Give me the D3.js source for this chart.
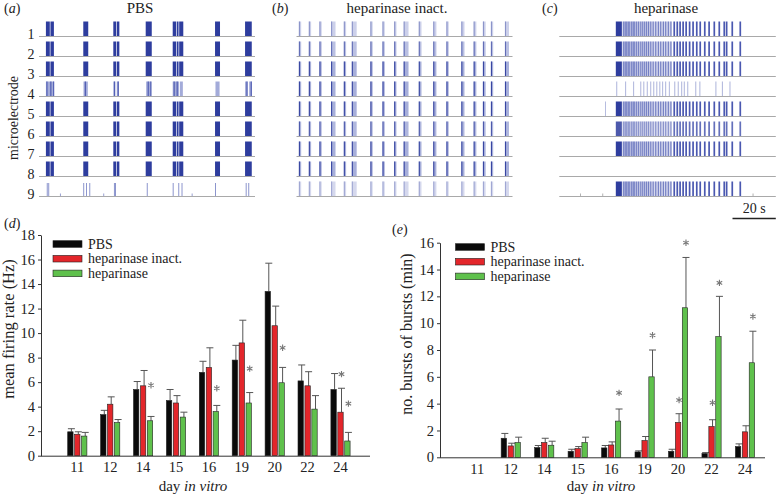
<!DOCTYPE html>
<html><head><meta charset="utf-8">
<script src="https://cdn.jsdelivr.net/npm/d3@7"></script>
<style>
body{margin:0;background:#fff}
svg{display:block}
text{font-family:"Liberation Serif","Times New Roman",serif;fill:#222}
</style>
</head><body>
<svg id="chart" width="781" height="494"></svg>
<script>
// ---------------- DATA ----------------
const days = ["11","12","14","15","16","19","20","22","24"];
const seriesNames = ["PBS","heparinase inact.","heparinase"];

// (d) mean firing rate (Hz): mean and mean+error
const ratePBS      = [1.95,3.35,5.4,4.5,6.8,7.8,13.4,6.1,5.4];
const ratePBSTop   = [2.2,3.7,6.05,5.4,7.7,9.0,15.7,7.4,6.7];
const rateInact    = [1.75,4.2,5.7,4.3,7.2,9.2,10.6,5.7,3.55];
const rateInactTop = [1.95,4.8,6.95,4.9,8.8,11.05,12.2,6.85,5.5];
const rateHep      = [1.6,2.7,2.85,3.15,3.6,4.3,5.95,3.8,1.2];
const rateHepTop   = [1.9,2.95,3.2,3.55,4.1,5.15,7.2,4.9,1.9];
const rateTicks = [0,2,4,6,8,10,12,14,16,18];
// asterisks: [day, series index, value]
const rateStars = [["14",2,5.75],["16",2,5.5],["19",2,7.1],["20",2,8.8],["24",1,6.65],["24",2,4.25]];

// (e) no. bursts of bursts (min)
const burstPBS      = [0,1.42,0.72,0.45,0.7,0.4,0.45,0.28,0.8];
const burstPBSTop   = [0,1.78,0.88,0.6,0.88,0.48,0.6,0.35,1.0];
const burstInact    = [0,0.85,1.1,0.65,0.92,1.25,2.6,2.3,1.9];
const burstInactTop = [0,1.05,1.42,0.8,1.15,1.55,3.25,2.8,2.35];
const burstHep      = [0,1.1,0.9,1.1,2.7,6.0,11.15,9.0,7.05];
const burstHepTop   = [0,1.5,1.2,1.5,3.6,8.0,14.9,12.0,9.4];
const burstTicks = [0,2,4,6,8,10,12,14,16];
const burstStars = [["16",2,4.8],["19",2,9.1],["20",1,4.27],["20",2,16.0],["22",1,4.07],["22",2,13.0],["24",2,10.5]];

// rasters (time in s, 100 s window per panel)
const electrodes = [1,2,3,4,5,6,7,8,9];
// (a) PBS
const pbsSegments = [[3.2,5.0],[5.3,6.9],[20.5,22.8],[34.4,35.7],[36.0,37.2],[49.4,52.2],[61.9,63.5],[63.8,64.6],[64.9,66.8],[81.5,83.8],[95.4,98.5]];
const pbsFullRows = [1,2,3,5,6,7,8];
const pbsRow4Segments = [[3.2,6.9],[20.6,22.6],[34.4,35.3],[36.0,37.0],[49.6,52.0],[61.9,64.8],[65.2,66.6],[81.7,83.6],[95.4,96.6],[97.3,98.5]];
const pbsRow4Dark = [3.4,5.2,6.5,21.2,34.7,36.4,50.3,51.5,62.3,63.7,96.0,98.0];
const pbsRow9Spikes = [3.6,4.3,20.5,21.8,23.3,34.7,35.2,49.9,61.9,64.5,66.0,81.5,95.7,96.9];
const pbsRow9Small = [9.7,29.8,70.7];
// (b) heparinase inact.: [onset, width]
const inactBursts = [[1.1,0.6],[5.7,0.6],[10.6,0.6],[16.0,1.6],[21.9,0.6],[25.6,1.8],[34.2,0.6],[39.8,0.6],[45.2,0.6],[49.6,1.8],[56.6,0.8],[63.3,1.0],[69.4,0.6],[76.3,1.0],[82.0,0.8],[86.3,0.8],[90.0,0.6],[96.5,1.4]];
// (c) heparinase
const hepSolid = [26.1,28.9];
const hepDense = [28.9,52.0];
const hepTrain = [29.5,30.2,30.9,31.6,32.3,33.2,33.9,34.6,35.5,36.4,37.4,38.3,39.2,40.1,41.0,42.0,43.1,44.3,45.5,46.6,47.8,48.9,50.1,51.3,52.7,54.1,55.4,56.8,58.2,59.8,61.4,63.1,64.7,66.8,68.8,71.2,73.5,75.8,76.9,79.5,83.2];
const hepFullRows = [1,2,3,5,6,7,9];
const hepRow4 = [26.3,30.4,34.1,37.4,38.8,40.4,42.0,43.4,44.8,46.2,47.5,48.9,50.6,53.1,54.7,56.3,57.5,59.1,62.8,64.7,72.1,75.1,78.6];
const hepRow5Extra = [21.2];
const hepRow9Small = [9.6,19.9,89.3];
const scaleBarSeconds = 20;

// ---------------- DRAW ----------------
const svg = d3.select("#chart");
const DARK = "#2e3d9e", MID = "#4a58b0", LIGHT = "#a3abd9", BASE = "#a9a9a9";
const rowY = d3.scalePoint().domain(electrodes).range([36,196]);
const SPIKE_H = 14.5;

function panelLabel(x, y, letter){
  const t = svg.append("text").attr("x",x).attr("y",y).attr("font-size",14);
  t.append("tspan").text("(");
  t.append("tspan").attr("font-style","italic").text(letter);
  t.append("tspan").text(")");
}
function title(x, y, s){
  svg.append("text").attr("x",x).attr("y",y).attr("text-anchor","middle").attr("font-size",15).text(s);
}
function baselines(g, xs){
  g.selectAll("line.base").data(electrodes).join("line").attr("class","base")
    .attr("x1",xs.range()[0]).attr("x2",xs.range()[1])
    .attr("y1",d=>rowY(d)+0.5).attr("y2",d=>rowY(d)+0.5)
    .attr("stroke",BASE).attr("stroke-width",1);
}
function spikes(g, xs, row, times, color, w, h, op){
  g.append("g").selectAll("rect").data(times).join("rect")
    .attr("x",d=>xs(d)).attr("width",w)
    .attr("y",rowY(row)-h).attr("height",h)
    .attr("fill",color).attr("opacity",op);
}

// panel (a)
const xa = d3.scaleLinear().domain([0,100]).range([39,255]);
const ga = svg.append("g");
baselines(ga, xa);
pbsFullRows.forEach(r=>{
  ga.append("g").selectAll("rect").data(pbsSegments).join("rect")
    .attr("x",d=>xa(d[0])).attr("width",d=>xa(d[1])-xa(d[0]))
    .attr("y",rowY(r)-SPIKE_H).attr("height",SPIKE_H).attr("fill",DARK);
});
ga.append("g").selectAll("rect").data(pbsRow4Segments).join("rect")
  .attr("x",d=>xa(d[0])).attr("width",d=>xa(d[1])-xa(d[0]))
  .attr("y",rowY(4)-SPIKE_H).attr("height",SPIKE_H).attr("fill",LIGHT);
spikes(ga, xa, 4, pbsRow4Dark, MID, 1.2, SPIKE_H, 0.9);
spikes(ga, xa, 9, pbsRow9Spikes, MID, 0.9, 13, 0.7);
spikes(ga, xa, 9, pbsRow9Small, MID, 0.8, 2.5, 0.7);
svg.append("g").selectAll("text").data(electrodes).join("text")
  .attr("x",31).attr("y",d=>rowY(d)+2.5).attr("text-anchor","middle").attr("font-size",14).text(d=>d);
svg.append("text").attr("transform","translate(18,118) rotate(-90)").attr("text-anchor","middle")
  .attr("font-size",14).text("microelectrode");
panelLabel(4,13,"a"); title(140,13,"PBS");

// panel (b)
const xb = d3.scaleLinear().domain([0,100]).range([296.5,512.5]);
const gb = svg.append("g");
baselines(gb, xb);
const inactRowOpacity = {1:0.55,2:0.75,3:0.95,4:0.95,5:0.95,6:0.85,7:0.95,8:0.95,9:0.45};
electrodes.forEach(r=>{
  const g = gb.append("g").attr("opacity",inactRowOpacity[r]);
  g.selectAll("rect.l").data(inactBursts).join("rect").attr("class","l")
    .attr("x",d=>xb(d[0])).attr("width",d=>Math.max(1.6,xb(d[0]+d[1])-xb(d[0])+1))
    .attr("y",rowY(r)-SPIKE_H).attr("height",SPIKE_H).attr("fill",LIGHT);
  g.selectAll("rect.d").data(inactBursts).join("rect").attr("class","d")
    .attr("x",d=>xb(d[0])).attr("width",1.1)
    .attr("y",rowY(r)-SPIKE_H).attr("height",SPIKE_H).attr("fill",DARK);
});
panelLabel(272,13,"b"); title(397,13,"heparinase inact.");

// panel (c)
const xc = d3.scaleLinear().domain([0,100]).range([559.3,775.8]);
const gc = svg.append("g");
baselines(gc, xc);
hepFullRows.forEach(r=>{
  const g = gc.append("g").attr("opacity", r===6 ? 0.85 : 1);
  g.append("rect").attr("x",xc(hepDense[0])).attr("width",xc(hepDense[1])-xc(hepDense[0]))
    .attr("y",rowY(r)-SPIKE_H).attr("height",SPIKE_H).attr("fill",LIGHT).attr("opacity",0.45);
  g.append("rect").attr("x",xc(hepSolid[0])).attr("width",xc(hepSolid[1])-xc(hepSolid[0]))
    .attr("y",rowY(r)-SPIKE_H).attr("height",SPIKE_H).attr("fill",DARK);
  g.selectAll("rect.t").data(hepTrain).join("rect").attr("class","t")
    .attr("x",d=>xc(d)).attr("width",(d,i)=> i<24 ? 1.1 : 1.7)
    .attr("y",rowY(r)-SPIKE_H).attr("height",SPIKE_H).attr("fill",MID)
    .attr("opacity",(d,i)=> i<24 ? 0.75 : 1);
});
spikes(gc, xc, 4, hepRow4, MID, 1, SPIKE_H, 0.45);
spikes(gc, xc, 5, hepRow5Extra, MID, 0.8, SPIKE_H, 0.5);
spikes(gc, xc, 9, hepRow9Small, "#888", 0.8, 2.5, 0.8);
panelLabel(542,13,"c"); title(666,13,"heparinase");
// scale bar
svg.append("line").attr("x1",xc(100-scaleBarSeconds)).attr("x2",xc(100)).attr("y1",218.5).attr("y2",218.5)
  .attr("stroke","#222").attr("stroke-width",1.5);
svg.append("text").attr("x",(xc(100-scaleBarSeconds)+xc(100))/2).attr("y",213).attr("text-anchor","middle")
  .attr("font-size",14).text(scaleBarSeconds+" s");

// ---------- bar charts ----------
const COLORS = ["#0a0a0a","#e3262b","#5fc14c"];
const starPath = d3.symbol().type(d3.symbolAsterisk).size(28)();
function barChart(opt){
  const g = svg.append("g");
  const y = d3.scaleLinear().domain(opt.yDomain).range([opt.y0, opt.y1]);
  const x0 = d3.scaleBand().domain(days).range(opt.xRange);
  const x1 = d3.scaleBand().domain([0,1,2]).range([-9.6,9.6]).paddingInner(0.22);
  const cx = (day,s)=> x0(day)+x0.bandwidth()/2+x1(s)+x1.bandwidth()/2;
  // axes
  const ya = g.append("g").attr("transform",`translate(${opt.axisX},0)`)
    .call(d3.axisLeft(y).tickValues(opt.ticks).tickSize(3).tickSizeOuter(0).tickPadding(3));
  ya.select(".domain").attr("stroke","#333");
  ya.selectAll(".tick line").attr("stroke","#333");
  ya.selectAll("text").attr("font-size",14.5);
  g.append("line").attr("x1",opt.axisX).attr("x2",opt.axisEnd).attr("y1",opt.y0+0.5).attr("y2",opt.y0+0.5).attr("stroke","#333");
  const xa = g.append("g").attr("transform",`translate(0,${opt.y0})`)
    .call(d3.axisBottom(x0).tickSize(0).tickPadding(6));
  xa.select(".domain").remove();
  xa.selectAll("text").attr("font-size",14.5);
  // bars
  opt.series.forEach((vals,s)=>{
    const data = days.map((d,i)=>({day:d,v:vals[i],top:opt.tops[s][i]})).filter(d=>d.v>0);
    g.append("g").selectAll("line.ev").data(data).join("line")
      .attr("x1",d=>cx(d.day,s)+1).attr("x2",d=>cx(d.day,s)+1)
      .attr("y1",d=>y(d.v)).attr("y2",d=>y(d.top)).attr("stroke","#555").attr("stroke-width",1);
    g.append("g").selectAll("line.ec").data(data).join("line")
      .attr("x1",d=>cx(d.day,s)-2.5).attr("x2",d=>cx(d.day,s)+4.5)
      .attr("y1",d=>y(d.top)).attr("y2",d=>y(d.top)).attr("stroke","#555").attr("stroke-width",1);
    g.append("g").selectAll("rect").data(data).join("rect")
      .attr("x",d=>x0(d.day)+x0.bandwidth()/2+x1(s)).attr("width",x1.bandwidth())
      .attr("y",d=>y(d.v)).attr("height",d=>y(0)-y(d.v))
      .attr("fill",COLORS[s]).attr("stroke","#222").attr("stroke-width",0.6);
  });
  // stars
  g.append("g").selectAll("path").data(opt.stars).join("path")
    .attr("transform",d=>`translate(${cx(d[0],d[1])+1},${y(d[2])})`)
    .attr("d",starPath).attr("fill","none").attr("stroke","#777").attr("stroke-width",1.1);
  // legend
  const lg = g.append("g");
  seriesNames.forEach((n,i)=>{
    const yy = opt.legY + i*14.7;
    lg.append("rect").attr("x",opt.legX).attr("y",yy-3.3).attr("width",29).attr("height",6.6)
      .attr("fill",COLORS[i]).attr("stroke","#222").attr("stroke-width",0.6);
    lg.append("text").attr("x",opt.legX+35).attr("y",yy+4.5).attr("font-size",14).text(n);
  });
  // labels
  g.append("text").attr("transform",`translate(${opt.yLabX},${opt.yLabY}) rotate(-90)`)
    .attr("text-anchor","middle").attr("font-size",opt.yLabSize).text(opt.yLabel);
  const xl = g.append("text").attr("x",opt.xLabX).attr("y",491).attr("text-anchor","middle").attr("font-size",15);
  xl.append("tspan").text("day ");
  xl.append("tspan").attr("font-style","italic").text("in vitro");
}

barChart({
  yDomain:[0,18], y0:455.7, y1:235, ticks:rateTicks, xRange:[60.85,356.95], axisX:41, axisEnd:370,
  series:[ratePBS,rateInact,rateHep], tops:[ratePBSTop,rateInactTop,rateHepTop], stars:rateStars,
  legX:53, legY:244, yLabel:"mean firing rate (Hz)", yLabX:14, yLabY:329, yLabSize:16.5, xLabX:193
});
barChart({
  yDomain:[0,16], y0:457.3, y1:242.7, ticks:burstTicks, xRange:[460.57,761.73], axisX:440, axisEnd:765,
  series:[burstPBS,burstInact,burstHep], tops:[burstPBSTop,burstInactTop,burstHepTop], stars:burstStars,
  legX:455.5, legY:247, yLabel:"no. bursts of bursts (min)", yLabX:412, yLabY:334, yLabSize:16, xLabX:601
});
panelLabel(4,228,"d");
panelLabel(392,234,"e");
</script>
</body></html>
